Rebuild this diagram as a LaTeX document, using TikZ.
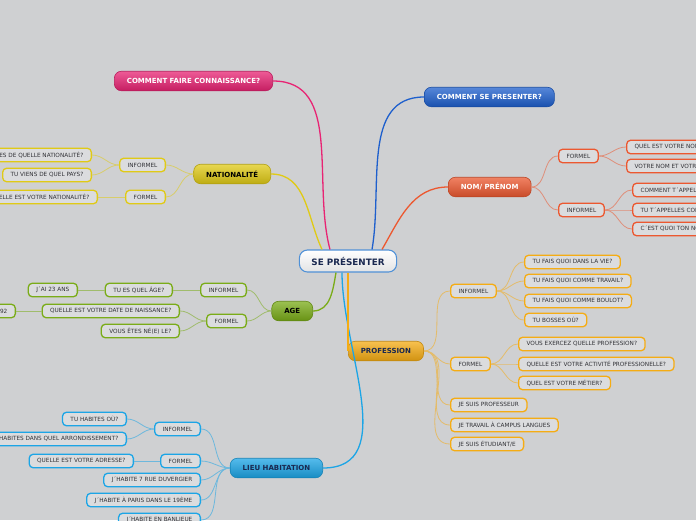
\documentclass[tikz,border=0pt]{standalone}
\usepackage{fontspec}
\setmainfont{DejaVu Sans}
\definecolor{mmbg}{RGB}{207,208,210}
\definecolor{mmleaf}{RGB}{219,220,222}
\definecolor{mmtext}{RGB}{50,50,55}
\definecolor{mmnavy}{RGB}{25,40,80}
\definecolor{mmpink}{RGB}{232,35,115}
\definecolor{mmblue}{RGB}{30,95,205}
\definecolor{mmred}{RGB}{236,88,48}
\definecolor{mmyellow}{RGB}{224,202,22}
\definecolor{mmgreen}{RGB}{122,172,24}
\definecolor{mmorange}{RGB}{245,172,20}
\definecolor{mmsky}{RGB}{28,165,230}
\definecolor{mmcore}{RGB}{80,145,215}
\newcommand{\leaffont}{\fontsize{5.75}{6.5}\selectfont}
\newcommand{\topicfont}{\fontsize{7}{8}\selectfont\bfseries}
\newcommand{\corefont}{\fontsize{8.8}{10}\selectfont\bfseries}
\usetikzlibrary{positioning}

\begin{document}
\begin{tikzpicture}[x=1pt, y=1pt,
  leaf/.style={draw=#1, fill=mmleaf, line width=1.3pt, rounded corners=4pt,
    font=\leaffont, text=mmtext, inner xsep=8pt, inner ysep=0pt, minimum height=13.5pt},
  topic/.style n args={3}{top color=#1!75!white, bottom color=#1!85!black, draw=#1!80!black,
    line width=0.6pt, rounded corners=7pt, font=\topicfont, text=#2, text=#3,
    inner xsep=12.5pt, inner ysep=0pt, minimum height=19.5pt},
  link/.style={draw=#1, line width=1.3pt},
  twig/.style={draw=#1!55!mmbg, line width=0.8pt}]

% --- background ---
\fill[mmbg] (0,0) rectangle (696,-520);
\useasboundingbox (0,0) rectangle (696,-520);

% --- core ---
\node[draw=mmcore, line width=1.1pt, top color=white, bottom color=mmbg!60!white,
      rounded corners=8pt, font=\corefont, text=mmnavy, inner xsep=12pt,
      inner ysep=0pt, minimum height=22pt] (core) at (348,-261) {SE PRÉSENTER};

% --- main topics ---
\node[topic={mmpink}{}{white}, anchor=east] (faire) at (273,-81) {COMMENT FAIRE CONNAISSANCE?};
\node[topic={mmblue}{}{white}, anchor=west] (presenter) at (424,-97) {COMMENT SE PRESENTER?};
\node[topic={mmred}{}{white}, anchor=west] (nom) at (448,-187) {NOM/ PRÉNOM};
\node[topic={mmyellow}{}{black}, anchor=east] (nat) at (271,-174) {NATIONALITÉ};
\node[topic={mmgreen}{}{black}, anchor=east] (age) at (313,-311) {AGE};
\node[topic={mmorange}{}{mmnavy}, anchor=west] (prof) at (348,-351) {PROFESSION};
\node[topic={mmsky}{}{mmnavy}, anchor=east] (lieu) at (323,-468) {LIEU HABITATION};

\draw[link=mmpink] (faire.east) to[out=0, in=105] ([xshift=-18]core.north);
\draw[link=mmyellow] (nat.east) to[out=0, in=115] ([xshift=-26]core.north);
\draw[link=mmblue] ([xshift=24]core.north) to[out=80, in=180] (presenter.west);
\draw[link=mmred] ([xshift=34]core.north) to[out=60, in=180] (nom.west);
\draw[link=mmgreen] ([xshift=-12]core.south) to[out=-100, in=0] (age.east);
\draw[link=mmsky] ([xshift=-6]core.south) to[out=-90, in=0] (lieu.east);
\draw[link=mmorange] (core.south) -- (prof.west);

% --- nationalite ---
\node[leaf=mmyellow, anchor=east] (nat-inf) at (166,-165) {INFORMEL};
\node[leaf=mmyellow, anchor=east] (nat-for) at (166,-197) {FORMEL};
\node[leaf=mmyellow, anchor=east] (nat-q1) at (92,-155) {TU ES DE QUELLE NATIONALITÉ?};
\node[leaf=mmyellow, anchor=east] (nat-q2) at (92,-175) {TU VIENS DE QUEL PAYS?};
\node[leaf=mmyellow, anchor=east] (nat-q3) at (98,-197) {QUELLE EST VOTRE NATIONALITÉ?};
\foreach \n in {nat-inf,nat-for}
  \draw[twig=mmyellow] (nat.west) to[out=180, in=0] (\n.east);
\foreach \n in {nat-q1,nat-q2}
  \draw[twig=mmyellow] (nat-inf.west) to[out=180, in=0] (\n.east);
\draw[twig=mmyellow] (nat-for.west) -- (nat-q3.east);

% --- age ---
\node[leaf=mmgreen, anchor=east] (age-inf) at (247,-290) {INFORMEL};
\node[leaf=mmgreen, anchor=east] (age-for) at (247,-321) {FORMEL};
\node[leaf=mmgreen, anchor=east] (age-q1) at (173,-290) {TU ES QUEL ÂGE?};
\node[leaf=mmgreen, anchor=east] (age-a1) at (78,-290) {J´AI 23 ANS};
\node[leaf=mmgreen, anchor=east] (age-q2) at (180,-311) {QUELLE EST VOTRE DATE DE NAISSANCE?};
\node[leaf=mmgreen, anchor=east] (age-a2) at (16,-311) {1992};
\node[leaf=mmgreen, anchor=east] (age-q3) at (180,-331) {VOUS ÊTES NÉ(E) LE?};
\foreach \n in {age-inf,age-for}
  \draw[twig=mmgreen] (age.west) to[out=180, in=0] (\n.east);
\draw[twig=mmgreen] (age-inf.west) -- (age-q1.east);
\draw[twig=mmgreen] (age-q1.west) -- (age-a1.east);
\foreach \n in {age-q2,age-q3}
  \draw[twig=mmgreen] (age-for.west) to[out=180, in=0] (\n.east);
\draw[twig=mmgreen] (age-q2.west) -- (age-a2.east);

% --- nom / prenom ---
\node[leaf=mmred, anchor=west] (nom-for) at (558,-156) {FORMEL};
\node[leaf=mmred, anchor=west] (nom-inf) at (558,-210) {INFORMEL};
\node[leaf=mmred, anchor=west] (nom-q1) at (626,-147) {QUEL EST VOTRE NOM?};
\node[leaf=mmred, anchor=west] (nom-q2) at (626,-166) {VOTRE NOM ET VOTRE PRÉNOM?};
\node[leaf=mmred, anchor=west] (nom-q3) at (632,-190) {COMMENT T´APPELLES-TU?};
\node[leaf=mmred, anchor=west] (nom-q4) at (632,-210) {TU T´APPELLES COMMENT?};
\node[leaf=mmred, anchor=west] (nom-q5) at (632,-229) {C´EST QUOI TON NOM?};
\foreach \n in {nom-for,nom-inf}
  \draw[twig=mmred] (nom.east) to[out=0, in=180] (\n.west);
\foreach \n in {nom-q1,nom-q2}
  \draw[twig=mmred] (nom-for.east) to[out=0, in=180] (\n.west);
\foreach \n in {nom-q3,nom-q4,nom-q5}
  \draw[twig=mmred] (nom-inf.east) to[out=0, in=180] (\n.west);

% --- profession ---
\node[leaf=mmorange, anchor=west] (prof-inf) at (450,-291) {INFORMEL};
\node[leaf=mmorange, anchor=west] (prof-for) at (450,-364) {FORMEL};
\node[leaf=mmorange, anchor=west] (prof-q1) at (524,-262) {TU FAIS QUOI DANS LA VIE?};
\node[leaf=mmorange, anchor=west] (prof-q2) at (524,-281) {TU FAIS QUOI COMME TRAVAIL?};
\node[leaf=mmorange, anchor=west] (prof-q3) at (524,-301) {TU FAIS QUOI COMME BOULOT?};
\node[leaf=mmorange, anchor=west] (prof-q4) at (524,-320) {TU BOSSES OÙ?};
\node[leaf=mmorange, anchor=west] (prof-q5) at (518,-344) {VOUS EXERCEZ QUELLE PROFESSION?};
\node[leaf=mmorange, anchor=west] (prof-q6) at (518,-364) {QUELLE EST VOTRE ACTIVITÉ PROFESSIONELLE?};
\node[leaf=mmorange, anchor=west] (prof-q7) at (518,-383) {QUEL EST VOTRE MÉTIER?};
\node[leaf=mmorange, anchor=west] (prof-a1) at (450,-405) {JE SUIS PROFESSEUR};
\node[leaf=mmorange, anchor=west] (prof-a2) at (450,-425) {JE TRAVAIL À CAMPUS LANGUES};
\node[leaf=mmorange, anchor=west] (prof-a3) at (450,-444) {JE SUIS ÉTUDIANT/E};
\foreach \n in {prof-inf,prof-for,prof-a1,prof-a2,prof-a3}
  \draw[twig=mmorange] (prof.east) to[out=0, in=180] (\n.west);
\foreach \n in {prof-q1,prof-q2,prof-q3,prof-q4}
  \draw[twig=mmorange] (prof-inf.east) to[out=0, in=180] (\n.west);
\foreach \n in {prof-q5,prof-q6,prof-q7}
  \draw[twig=mmorange] (prof-for.east) to[out=0, in=180] (\n.west);

% --- lieu habitation ---
\node[leaf=mmsky, anchor=east] (lieu-inf) at (201,-429) {INFORMEL};
\node[leaf=mmsky, anchor=east] (lieu-for) at (201,-461) {FORMEL};
\node[leaf=mmsky, anchor=east] (lieu-q1) at (127,-419) {TU HABITES OÙ?};
\node[leaf=mmsky, anchor=east] (lieu-q2) at (127,-439) {TU HABITES DANS QUEL ARRONDISSEMENT?};
\node[leaf=mmsky, anchor=east] (lieu-q3) at (134,-461) {QUELLE EST VOTRE ADRESSE?};
\node[leaf=mmsky, anchor=east] (lieu-a1) at (201,-480) {J´HABITE 7 RUE DUVERGIER};
\node[leaf=mmsky, anchor=east] (lieu-a2) at (201,-500) {J´HABITE À PARIS DANS LE 19ÈME};
\node[leaf=mmsky, anchor=east] (lieu-a3) at (201,-520) {J´HABITE EN BANLIEUE};
\foreach \n in {lieu-inf,lieu-for,lieu-a1,lieu-a2,lieu-a3}
  \draw[twig=mmsky] (lieu.west) to[out=180, in=0] (\n.east);
\foreach \n in {lieu-q1,lieu-q2}
  \draw[twig=mmsky] (lieu-inf.west) to[out=180, in=0] (\n.east);
\draw[twig=mmsky] (lieu-for.west) -- (lieu-q3.east);

\end{tikzpicture}
\end{document}
